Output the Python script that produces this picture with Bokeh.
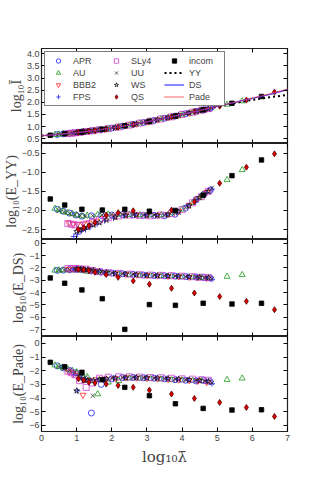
from bokeh.plotting import figure
from bokeh.models import FixedTicker, LinearAxis, Legend, LegendItem, Range1d
from bokeh.layouts import column
from bokeh.embed import file_html
from bokeh.resources import INLINE

# ---------------- data ----------------
APR_x = [0.45, 0.62, 0.8, 0.98, 1.15, 1.42, 1.7, 2.0, 2.3, 2.6, 2.9, 3.2, 3.5, 3.8, 4.1, 4.4, 4.62, 4.8]
APR_I = [0.67, 0.695, 0.72, 0.745, 0.775, 0.82, 0.875, 0.94, 1.01, 1.085, 1.165, 1.25, 1.34, 1.43, 1.53, 1.625, 1.69, 1.75]
APR_YY = [-1.97, -2.02, -2.07, -2.12, -2.15, -2.14, -2.13, -2.12, -2.11, -2.12, -2.13, -2.13, -2.14, -2.10, -1.94, -1.72, -1.58, -1.47]
APR_DS = [-2.2, -2.18, -2.15, -2.12, -2.15, -2.25, -2.35, -2.42, -2.47, -2.52, -2.58, -2.61, -2.63, -2.66, -2.7, -2.74, -2.78, -2.82]
APR_PD = [-1.65, -1.8, -1.98, -2.15, -2.4, -5.1, -3.0, -2.6, -2.5, -2.5, -2.52, -2.55, -2.6, -2.66, -2.7, -2.75, -2.72, -2.8]

AU_x = [0.38, 0.5, 0.62, 0.75, 0.88, 1.0, 1.15, 1.3, 1.6, 1.9, 2.2, 2.5, 2.8, 3.1, 3.4, 3.7, 4.0, 4.3, 4.55, 5.28, 5.71]
AU_I = [0.66, 0.68, 0.695, 0.71, 0.73, 0.75, 0.775, 0.80, 0.855, 0.915, 0.985, 1.06, 1.14, 1.22, 1.31, 1.40, 1.50, 1.59, 1.67, 1.91, 2.05]
AU_YY = [-1.95, -1.99, -2.03, -2.06, -2.09, -2.12, -2.15, -2.13, -2.11, -2.1, -2.1, -2.11, -2.12, -2.12, -2.12, -2.07, -1.97, -1.8, -1.63, -1.2, -0.94]
AU_DS = [-2.2, -2.19, -2.18, -2.17, -2.16, -2.15, -2.2, -2.3, -2.38, -2.45, -2.5, -2.55, -2.6, -2.63, -2.64, -2.66, -2.7, -2.74, -2.77, -2.7, -2.56]
AU_PD = [-1.6, -1.7, -1.8, -1.9, -2.0, -2.1, -2.25, -2.45, -3.71, -2.85, -2.75, -2.55, -2.57, -2.6, -2.62, -2.68, -2.7, -2.72, -2.75, -2.66, -2.56]

BBB2_x = [0.78, 0.9, 1.02, 1.18, 1.35, 1.55, 1.8, 2.1, 2.4, 2.7, 3.0, 3.3, 3.6, 3.9, 4.2, 4.45, 4.7]
BBB2_I = [0.715, 0.735, 0.755, 0.78, 0.81, 0.845, 0.89, 0.96, 1.035, 1.11, 1.195, 1.28, 1.37, 1.465, 1.56, 1.64, 1.72]
BBB2_YY = [-2.33, -2.35, -2.36, -2.35, -2.32, -2.27, -2.2, -2.15, -2.12, -2.12, -2.13, -2.13, -2.1, -2.02, -1.86, -1.69, -1.52]
BBB2_DS = [-2.1, -2.1, -2.08, -2.1, -2.18, -2.28, -2.38, -2.45, -2.5, -2.55, -2.6, -2.63, -2.66, -2.7, -2.74, -2.78, -2.82]
BBB2_PD = [-2.1, -2.2, -2.35, -3.78, -2.7, -2.65, -2.6, -2.55, -2.5, -2.52, -2.55, -2.58, -2.62, -2.66, -2.7, -2.75, -2.85]

FPS_x = [0.92, 1.02, 1.12, 1.25, 1.4, 1.58, 1.8, 2.05, 2.35, 2.65, 2.95, 3.25, 3.55, 3.85, 4.15, 4.42, 4.68, 4.85]
FPS_I = [0.735, 0.755, 0.77, 0.795, 0.82, 0.855, 0.89, 0.95, 1.02, 1.10, 1.18, 1.26, 1.355, 1.45, 1.545, 1.635, 1.71, 1.76]
FPS_YY = [-2.68, -2.62, -2.55, -2.5, -2.42, -2.35, -2.27, -2.2, -2.14, -2.12, -2.13, -2.13, -2.12, -2.05, -1.88, -1.72, -1.55, -1.44]
FPS_DS = [-2.12, -2.1, -2.1, -2.13, -2.2, -2.28, -2.37, -2.45, -2.5, -2.55, -2.6, -2.63, -2.65, -2.68, -2.72, -2.76, -2.8, -2.92]
FPS_PD = [-2.3, -3.47, -2.5, -2.65, -2.7, -2.65, -2.6, -2.55, -2.52, -2.5, -2.52, -2.55, -2.6, -2.65, -2.7, -2.72, -2.75, -2.95]

SLy4_x = [0.75, 0.85, 0.95, 1.08, 1.27, 1.45, 1.65, 1.9, 2.2, 2.5, 2.8, 3.1, 3.4, 3.7, 4.0, 4.3, 4.55, 4.75]
SLy4_I = [0.71, 0.725, 0.74, 0.76, 0.795, 0.825, 0.865, 0.915, 0.985, 1.06, 1.14, 1.22, 1.31, 1.40, 1.50, 1.59, 1.675, 1.74]
SLy4_YY = [-2.34, -2.36, -2.38, -2.39, -2.36, -2.31, -2.25, -2.19, -2.14, -2.12, -2.13, -2.14, -2.12, -2.08, -1.98, -1.8, -1.64, -1.5]
SLy4_DS = [-2.05, -2.05, -2.05, -2.06, -2.1, -2.2, -2.3, -2.38, -2.44, -2.5, -2.55, -2.58, -2.6, -2.63, -2.67, -2.71, -2.75, -2.78]
SLy4_PD = [-2.05, -2.15, -2.3, -2.73, -3.22, -2.9, -2.55, -2.48, -2.45, -2.45, -2.47, -2.5, -2.52, -2.55, -2.6, -2.62, -2.66, -2.7]

UU_x = [0.5, 0.65, 0.8, 0.95, 1.1, 1.25, 1.46, 1.72, 2.0, 2.3, 2.6, 2.9, 3.2, 3.5, 3.8, 4.1, 4.4, 4.65, 4.85]
UU_I = [0.68, 0.70, 0.72, 0.74, 0.77, 0.795, 0.83, 0.88, 0.94, 1.01, 1.085, 1.165, 1.25, 1.34, 1.43, 1.53, 1.625, 1.70, 1.76]
UU_YY = [-2.0, -2.04, -2.08, -2.11, -2.14, -2.15, -2.14, -2.12, -2.1, -2.1, -2.11, -2.12, -2.12, -2.12, -2.07, -1.92, -1.72, -1.56, -1.42]
UU_DS = [-2.18, -2.17, -2.15, -2.13, -2.12, -2.15, -2.23, -2.32, -2.4, -2.46, -2.52, -2.57, -2.6, -2.63, -2.66, -2.7, -2.74, -2.8, -2.88]
UU_PD = [-1.7, -1.85, -1.98, -2.12, -2.28, -2.5, -3.83, -2.7, -2.55, -2.5, -2.5, -2.52, -2.55, -2.58, -2.62, -2.66, -2.7, -2.75, -2.9]

WS_x = [1.0, 1.1, 1.2, 1.32, 1.48, 1.65, 1.85, 2.1, 2.4, 2.7, 3.0, 3.3, 3.6, 3.9, 4.2, 4.5, 4.75]
WS_I = [0.75, 0.765, 0.785, 0.805, 0.83, 0.865, 0.90, 0.96, 1.035, 1.11, 1.195, 1.28, 1.37, 1.465, 1.56, 1.655, 1.735]
WS_YY = [-2.55, -2.52, -2.48, -2.44, -2.38, -2.32, -2.25, -2.18, -2.13, -2.12, -2.13, -2.13, -2.11, -2.04, -1.88, -1.66, -1.5]
WS_DS = [-2.1, -2.1, -2.11, -2.14, -2.2, -2.28, -2.36, -2.44, -2.5, -2.55, -2.6, -2.62, -2.65, -2.68, -2.72, -2.76, -2.8]
WS_PD = [-3.47, -2.4, -2.7, -2.68, -2.72, -2.65, -2.6, -2.55, -2.52, -2.5, -2.52, -2.55, -2.58, -2.62, -2.67, -2.72, -2.78]

QS_x = [1.05, 1.2, 1.35, 1.52, 1.84, 2.18, 2.61, 3.07, 3.70, 4.35, 5.07, 5.83, 6.63]
QS_I = [0.76, 0.785, 0.81, 0.84, 0.895, 0.97, 1.085, 1.21, 1.40, 1.62, 1.84, 2.09, 2.42]
QS_YY = [-2.5, -2.45, -2.4, -2.32, -2.12, -2.06, -2.01, -2.04, -1.99, -1.77, -1.29, -0.87, -0.52]
QS_DS = [-2.12, -2.15, -2.22, -2.35, -2.54, -2.76, -3.05, -3.32, -3.65, -4.03, -4.32, -4.70, -5.38]
QS_PD = [-2.6, -2.7, -2.85, -2.9, -2.98, -3.08, -3.22, -3.42, -3.71, -4.03, -4.32, -4.69, -5.35]

incom_x = [0.25, 0.66, 1.15, 1.73, 2.37, 3.07, 3.81, 4.6, 5.42, 6.26]
incom_I = [0.64, 0.70, 0.775, 0.885, 1.03, 1.21, 1.43, 1.69, 1.96, 2.24]
incom_YY = [-1.70, -1.86, -1.97, -1.99, -1.97, -2.02, -2.0, -1.6, -1.09, -0.68]
incom_DS = [-2.81, -3.24, -3.78, -4.49, -6.97, -4.97, -5.03, -4.86, -4.92, -4.86]
incom_PD = [-1.39, -1.71, -2.12, -2.66, -3.22, -3.83, -4.42, -4.76, -4.88, -4.86]

fit_x = [0, 0.5, 1, 1.5, 2, 2.5, 3, 3.5, 4, 4.5, 5, 5.5, 6, 6.5, 7]
YY_fit = [0.62, 0.68, 0.75, 0.835, 0.94, 1.06, 1.195, 1.34, 1.50, 1.66, 1.815, 1.97, 2.10, 2.21, 2.30]
DS_fit = [0.62, 0.68, 0.75, 0.835, 0.94, 1.06, 1.195, 1.34, 1.50, 1.66, 1.83, 2.0, 2.16, 2.33, 2.52]
Pade_fit = [0.62, 0.68, 0.75, 0.835, 0.94, 1.06, 1.195, 1.34, 1.50, 1.66, 1.83, 2.0, 2.17, 2.35, 2.54]

x_ticks = [0, 1, 2, 3, 4, 5, 6, 7]
I_ticks = [0.5, 1.0, 1.5, 2.0, 2.5, 3.0, 3.5, 4.0]
YY_ticks = [-2.5, -2.0, -1.5, -1.0, -0.5]
DS_ticks = [0, -1, -2, -3, -4, -5, -6, -7]
PD_ticks = [0, -1, -2, -3, -4, -5, -6]

# ---------------- styles ----------------
eos = [
    ("APR", APR_x, APR_I, APR_YY, APR_DS, APR_PD, dict(marker="circle", size=6, line_color="#2020ff", fill_color=None)),
    ("AU", AU_x, AU_I, AU_YY, AU_DS, AU_PD, dict(marker="triangle", size=6, line_color="#1a9a1a", fill_color=None)),
    ("BBB2", BBB2_x, BBB2_I, BBB2_YY, BBB2_DS, BBB2_PD, dict(marker="inverted_triangle", size=6, line_color="#ff2020", fill_color=None)),
    ("FPS", FPS_x, FPS_I, FPS_YY, FPS_DS, FPS_PD, dict(marker="cross", size=6, line_color="#2020ff")),
    ("SLy4", SLy4_x, SLy4_I, SLy4_YY, SLy4_DS, SLy4_PD, dict(marker="square", size=6, line_color="#d040d0", fill_color=None)),
    ("UU", UU_x, UU_I, UU_YY, UU_DS, UU_PD, dict(marker="x", size=6, line_color="#333333")),
    ("WS", WS_x, WS_I, WS_YY, WS_DS, WS_PD, dict(marker="star", size=6, line_color="#111111", fill_color=None)),
    ("QS", QS_x, QS_I, QS_YY, QS_DS, QS_PD, dict(marker="diamond", size=6, line_color="#550000", fill_color="#dd0000")),
    ("incom", incom_x, incom_I, incom_YY, incom_DS, incom_PD, dict(marker="square", size=4.5, line_color="black", fill_color="black")),
]

RIGHT = 17
LEFT = 40
W = 287 + RIGHT
TICK_FONT = "9px"
LABEL_FONT = "Liberation Serif"


def fmt_labels(ticks, digits):
    return {t: (f"{t:.{digits}f}").replace("-", "\u2212") for t in ticks}


def tick_axis(ticks):
    return LinearAxis(ticker=FixedTicker(ticks=ticks), major_tick_in=4, major_tick_out=0,
                      minor_tick_in=0, minor_tick_out=0, major_label_text_font_size="0px",
                      major_label_text_alpha=0, major_label_standoff=0, axis_line_alpha=0,
                      major_tick_line_color="black")


def panel(height, yr, yticks, digits, ylabel, top=0, bottom=0, show_x=False):
    p = figure(width=W, height=height, x_range=Range1d(0, 7), y_range=Range1d(*yr),
               output_backend="svg", toolbar_location=None,
               x_axis_location=None, y_axis_location=None,
               min_border_left=LEFT, min_border_right=RIGHT,
               min_border_top=top, min_border_bottom=bottom)
    p.grid.visible = False
    p.outline_line_color = "#222222"
    p.outline_line_width = 1.2
    p.background_fill_color = "white"
    p.border_fill_color = "white"
    ya = LinearAxis(ticker=FixedTicker(ticks=yticks), major_tick_in=4, major_tick_out=0,
                    minor_tick_in=0, minor_tick_out=0, axis_line_alpha=0,
                    major_label_overrides=fmt_labels(yticks, digits),
                    major_label_text_font_size=TICK_FONT, major_label_standoff=2,
                    axis_label=ylabel, axis_label_text_font=LABEL_FONT,
                    axis_label_text_font_style="normal", axis_label_text_font_size="14px",
                    axis_label_standoff=0)
    p.add_layout(ya, "left")
    p.add_layout(tick_axis(yticks), "right")
    p.add_layout(tick_axis(x_ticks), "above")
    if show_x:
        xa = LinearAxis(ticker=FixedTicker(ticks=x_ticks), major_tick_in=4, major_tick_out=0,
                        minor_tick_in=0, minor_tick_out=0, axis_line_alpha=0,
                        major_label_text_font_size=TICK_FONT, major_label_standoff=3,
                        axis_label="log₁₀λ̄", axis_label_text_font="DejaVu Serif",
                        axis_label_text_font_style="normal", axis_label_text_font_size="15px",
                        axis_label_standoff=4)
        p.add_layout(xa, "below")
    else:
        p.add_layout(tick_axis(x_ticks), "below")
    return p


p1 = panel(143, (0.3, 4.22), I_ticks, 1, "log₁₀Ī", top=48)
p2 = panel(96, (-2.76, -0.25), YY_ticks, 1, "log₁₀(E_YY)")
p3 = panel(97, (-7.55, 0.3), DS_ticks, 0, "log₁₀(E_DS)")
p4 = panel(139, (-6.45, 0.5), PD_ticks, 0, "log₁₀(E_Pade)", bottom=44, show_x=True)

items = []
for name, xs, yI, yYY, yDS, yPD, st in eos:
    r = p1.scatter(xs, yI, line_width=0.8, **st)
    p2.scatter(xs, yYY, line_width=0.8, **st)
    p3.scatter(xs, yDS, line_width=0.8, **st)
    p4.scatter(xs, yPD, line_width=0.8, **st)
    items.append(LegendItem(label=name, renderers=[r]))

r_yy = p1.line(fit_x, YY_fit, line_color="black", line_width=2, line_dash="2 3")
r_ds = p1.line(fit_x, DS_fit, line_color="#3333ff", line_width=1.2)
r_pd = p1.line(fit_x, Pade_fit, line_color="#ff3333", line_width=1.5, line_dash="1 1")
items += [LegendItem(label="YY", renderers=[r_yy]),
          LegendItem(label="DS", renderers=[r_ds]),
          LegendItem(label="Pade", renderers=[r_pd])]

legend = Legend(items=items, location="top_left", orientation="vertical", nrows=4,
                label_text_font_size="9px", glyph_width=20, glyph_height=11,
                label_height=11, label_width=32, spacing=1, padding=3, margin=3,
                label_standoff=5, border_line_color="black", border_line_width=1.5,
                background_fill_alpha=1)
p1.add_layout(legend)

layout = column(p1, p2, p3, p4, spacing=0)
open("out.html", "w").write(file_html(layout, INLINE))
